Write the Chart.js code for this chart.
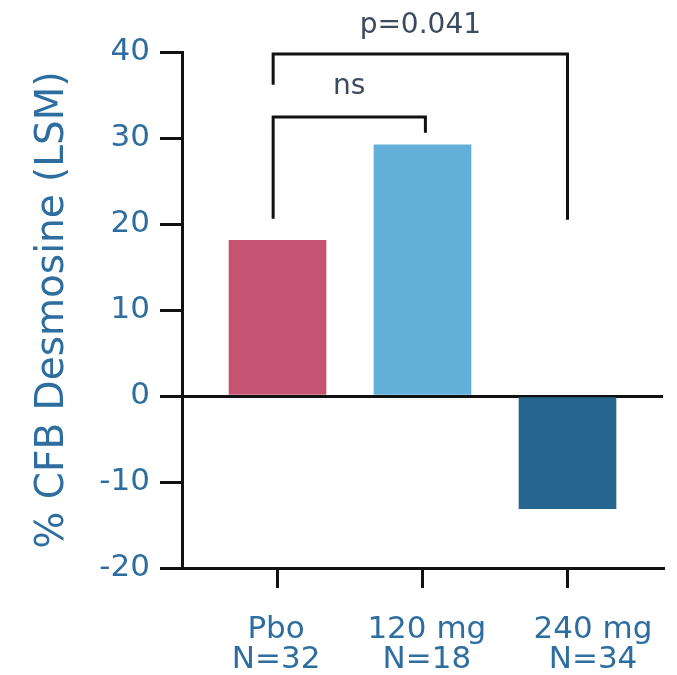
<!DOCTYPE html>
<html>
<head>
<meta charset="utf-8">
<script src="https://cdn.jsdelivr.net/npm/chart.js@4/dist/chart.umd.min.js"></script>
<style>
  html, body { margin: 0; padding: 0; background: #ffffff; }
  canvas { display: block; }
</style>
</head>
<body>
<canvas id="c" width="677" height="675"></canvas>
<script>
// ---- data ----
const categories = ['Pbo', '120 mg', '240 mg'];
const nLabels = ['N=32', 'N=18', 'N=34'];
const values = [18.1, 29.2, -13.1];
const yTicks = [-20, -10, 0, 10, 20, 30, 40];
const barColors = ['#c55473', '#62b0da', '#276591'];
// comparison brackets (data units)
const bracketFrom = [0.97, 0.97];
const bracketTo = [2.02, 3.0];
const bracketTop = [32.45, 39.77];
const bracketLeftEnd = [20.6, 36.2];
const bracketRightEnd = [30.6, 20.5];
const bracketLabels = ['ns', 'p=0.041'];
const bracketLabelY = [35.1, 42.2];
// label anchor positions along x (data units)
const labelPos = [0.99, 2.03, 3.176];

const AX = '#111111';
const BLUE = '#2e6d9f';
const DARK = '#3b4a5e';

Chart.defaults.font.family = "'DejaVu Sans', Verdana, sans-serif";

const bracketPlugin = {
  id: 'brackets',
  afterDraw(chart) {
    const ctx = chart.ctx, xs = chart.scales.x, ys = chart.scales.y;
    ctx.save();
    ctx.strokeStyle = AX;
    ctx.lineWidth = 3;
    ctx.lineJoin = 'miter';
    ctx.lineCap = 'butt';
    for (let i = 0; i < bracketFrom.length; i++) {
      const x1 = xs.getPixelForValue(bracketFrom[i]);
      const x2 = xs.getPixelForValue(bracketTo[i]);
      const yt = ys.getPixelForValue(bracketTop[i]);
      const yl = ys.getPixelForValue(bracketLeftEnd[i]);
      const yr = ys.getPixelForValue(bracketRightEnd[i]);
      ctx.beginPath();
      ctx.moveTo(x1, yl);
      ctx.lineTo(x1, yt);
      ctx.lineTo(x2, yt);
      ctx.lineTo(x2, yr);
      ctx.stroke();
      ctx.fillStyle = DARK;
      ctx.font = "28px 'DejaVu Sans', Verdana, sans-serif";
      ctx.textAlign = 'center';
      ctx.textBaseline = 'alphabetic';
      ctx.fillText(bracketLabels[i], (x1 + x2) / 2, ys.getPixelForValue(bracketLabelY[i]));
    }
    ctx.restore();
  }
};

new Chart(document.getElementById('c'), {
  type: 'bar',
  data: {
    datasets: [{
      data: values.map((v, i) => ({ x: i + 1, y: v })),
      backgroundColor: barColors,
      borderWidth: 0,
      barThickness: 97
    }]
  },
  options: {
    responsive: false,
    animation: false,
    events: [],
    layout: { padding: { top: 52, right: 14, left: 0, bottom: 0 } },
    plugins: { legend: { display: false }, tooltip: { enabled: false } },
    scales: {
      x: {
        type: 'linear',
        position: 'bottom',
        offset: false,
        min: 0.3414,
        max: 3.6586,
        afterBuildTicks(s) { s.ticks = categories.map((c, i) => ({ value: i + 1 })); },
        afterFit(s) { s.height = 20; s.paddingLeft = 0; s.paddingRight = 0; },
        ticks: { display: false },
        grid: { offset: false, drawOnChartArea: false, drawTicks: true, tickLength: 20, color: AX, tickColor: AX, lineWidth: 3 },
        border: { display: true, color: AX, width: 3 }
      },
      x2: {
        type: 'linear',
        position: 'bottom',
        offset: false,
        min: 0.3414,
        max: 3.6586,
        afterBuildTicks(s) { s.ticks = labelPos.map(v => ({ value: v })); },
        afterFit(s) { s.height = 87; s.paddingLeft = 0; s.paddingRight = 0; },
        ticks: {
          color: BLUE,
          font: { size: 31, lineHeight: 0.97 },
          padding: 27,
          maxRotation: 0,
          autoSkip: false,
          callback(val, idx) { return [categories[idx], nLabels[idx]]; }
        },
        grid: { offset: false, display: false, drawTicks: false },
        border: { display: false }
      },
      y: {
        min: -20,
        max: 40,
        z: 1,
        afterBuildTicks(s) { s.ticks = yTicks.map(v => ({ value: v })); },
        afterFit(s) { s.width = 182; },
        ticks: {
          color: BLUE,
          font: { size: 31 },
          padding: 10,
          callback(v) { return String(v); }
        },
        grid: {
          drawOnChartArea: true,
          drawTicks: true,
          tickLength: 22,
          lineWidth: 3,
          tickColor: AX,
          color: (c) => (c.tick && c.tick.value === 0 ? AX : 'rgba(0,0,0,0)')
        },
        border: { display: true, color: AX, width: 3 },
        title: {
          display: true,
          text: '% CFB Desmosine (LSM)',
          color: BLUE,
          font: { size: 39, lineHeight: 1.2 },
          padding: { top: 29, bottom: 0 }
        }
      }
    }
  },
  plugins: [bracketPlugin]
});
</script>
</body>
</html>
